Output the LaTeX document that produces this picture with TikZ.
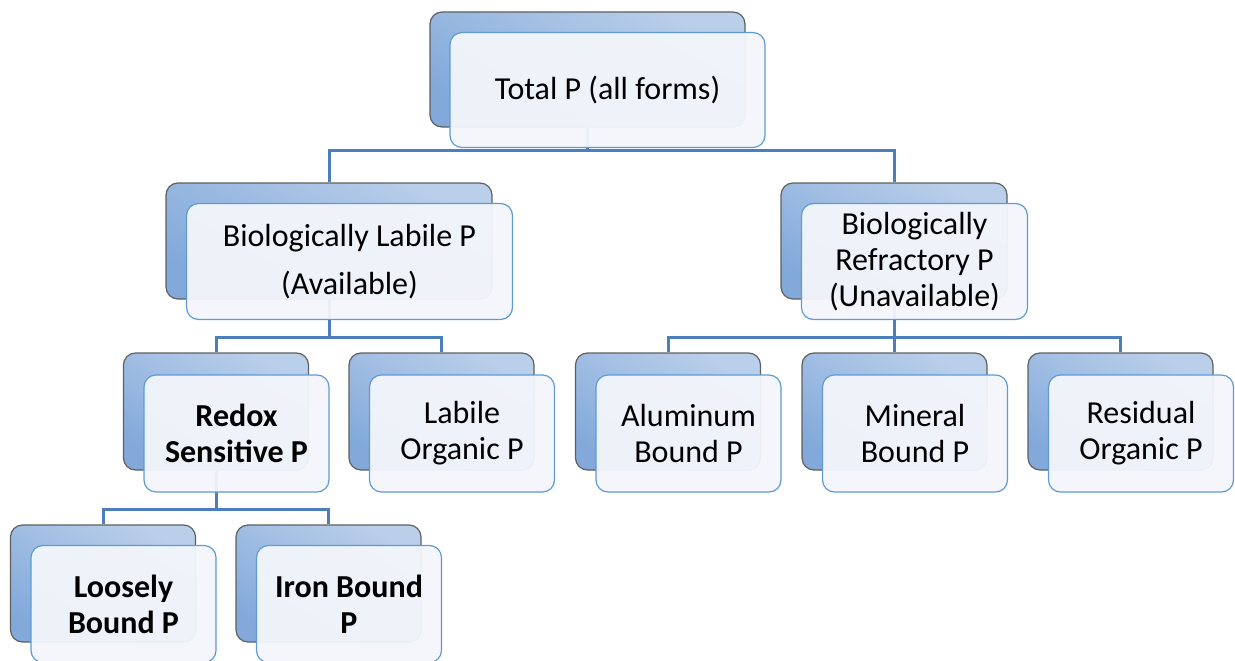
\documentclass[tikz,border=0pt]{standalone}
\usepackage{fontspec}
\setmainfont{Carlito}
\usetikzlibrary{positioning}

\definecolor{backlight}{HTML}{BACFEA}
\definecolor{backdark}{HTML}{82A9DA}
\definecolor{backline}{HTML}{5F5F5F}
\definecolor{frontfill}{HTML}{F3F6FB}
\definecolor{frontline}{HTML}{5E9AD6}
\definecolor{linkblue}{HTML}{4B7FBC}

\tikzset{
  back/.style={rectangle, rounded corners=12, draw=backline, line width=1.2,
    top color=backlight, bottom color=backdark, shading angle=-30, inner sep=0},
  front/.style={rectangle, rounded corners=12, draw=frontline, line width=1.2,
    fill=frontfill, fill opacity=0.95, text opacity=1, inner sep=0, align=center,
    font=\fontsize{32}{36}\selectfont},
  link/.style={draw=linkblue, line width=3},
  wide/.style={minimum width=#1, minimum height=116},
  small/.style={minimum width=185, minimum height=117},
}

\begin{document}
\begin{tikzpicture}[x=1pt, y=-1pt]
  \useasboundingbox (0,0) rectangle (1235,661);
  % back boxes
  \node[back, minimum width=315, minimum height=115] (totB) at (587.5,69.5) {};
  \node[back, wide=326] (labB) at (329,241) {};
  \node[back, wide=226] (refB) at (894,241) {};
  \node[back, small] (redB) at (216,411.5) {};
  \node[back, small] (lorgB) at (441.5,411.5) {};
  \node[back, small] (aluB) at (668,411.5) {};
  \node[back, small] (minB) at (894.5,411.5) {};
  \node[back, small] (resB) at (1120.5,411.5) {};
  \node[back, small] (looB) at (103,583.5) {};
  \node[back, small] (ironB) at (328.5,583.5) {};
  % connectors
  \draw[link] (totB.south) -- ++(0,23) -| (labB.north);
  \draw[link] (totB.south) -- ++(0,23) -| (refB.north);
  \draw[link] (labB.south) -- ++(0,38) -| (redB.north);
  \draw[link] (labB.south) -- ++(0,38) -| (lorgB.north);
  \draw[link] (refB.south) -- ++(0,38) -| (aluB.north);
  \draw[link] (refB.south) -- ++(0,38) -| (minB.north);
  \draw[link] (refB.south) -- ++(0,38) -| (resB.north);
  \draw[link] (redB.south) -- ++(0,39) -| (looB.north);
  \draw[link] (redB.south) -- ++(0,39) -| (ironB.north);
  % front boxes
  \node[front, minimum width=315, minimum height=115] (tot) at ([shift={(20,20.5)}]totB) {Total P (all forms)};
  \node[front, wide=326] (lab) at ([shift={(20.5,20.5)}]labB) {Biologically Labile P\\[12pt](Available)};
  \node[front, wide=226] (ref) at ([shift={(20.5,20.5)}]refB) {Biologically\\Refractory P\\(Unavailable)};
  \node[front, small] (red) at ([shift={(20.5,22)}]redB) {\textbf{Redox}\\\textbf{Sensitive P}};
  \node[front, small] (lorg) at ([shift={(20.5,22)}]lorgB) {Labile\\Organic P};
  \node[front, small] (alu) at ([shift={(20.5,22)}]aluB) {Aluminum\\Bound P};
  \node[front, small] (min) at ([shift={(20.5,22)}]minB) {Mineral\\Bound P};
  \node[front, small] (res) at ([shift={(20.5,22)}]resB) {Residual\\Organic P};
  \node[front, small] (loo) at ([shift={(20.5,20.5)}]looB) {\textbf{Loosely}\\\textbf{Bound P}};
  \node[front, small] (iron) at ([shift={(20.5,20.5)}]ironB) {\textbf{Iron Bound}\\\textbf{P}};
\end{tikzpicture}
\end{document}
